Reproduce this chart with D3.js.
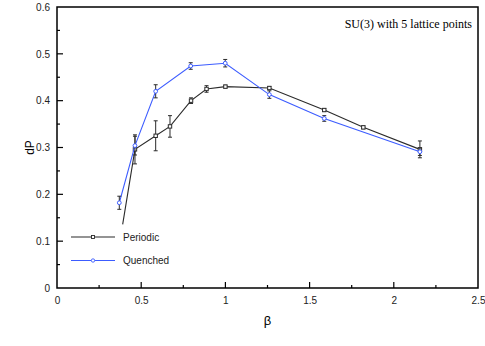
<!DOCTYPE html>
<html>
<head>
<meta charset="utf-8">
<script src="https://cdn.jsdelivr.net/npm/d3@7"></script>
<style>
  body { margin: 0; background: #fff; }
  svg { display: block; font-family: "Liberation Sans", Arial, sans-serif; }
</style>
</head>
<body>
<svg id="chart" width="485" height="346"></svg>
<script>
// Periodic (black, squares)
const periodicBeta = [0.39, 0.463, 0.586, 0.671, 0.796, 0.888, 1.0, 1.261, 1.587, 1.819, 2.155];
const periodicDP   = [0.136, 0.296, 0.325, 0.345, 0.400, 0.425, 0.430, 0.427, 0.380, 0.343, 0.296];
const periodicErr  = [null, 0.031, 0.032, 0.023, 0.006, 0.007, 0.003, 0.003, 0.003, 0.003, 0.018];

// Quenched (blue, circles)
const quenchedBeta = [0.370, 0.463, 0.586, 0.794, 0.999, 1.261, 1.587, 2.155];
const quenchedDP   = [0.182, 0.304, 0.420, 0.474, 0.480, 0.413, 0.362, 0.291];
const quenchedErr  = [0.014, 0.02, 0.014, 0.007, 0.008, 0.008, 0.006, 0.008];

const xTicks = [0, 0.5, 1, 1.5, 2, 2.5];
const yTicks = [0, 0.1, 0.2, 0.3, 0.4, 0.5, 0.6];

const svg = d3.select("#chart");
const x = d3.scaleLinear().domain([0, 2.5]).range([57, 478]);
const y = d3.scaleLinear().domain([0, 0.6]).range([288, 7]);

const blue = "#3c5cff";
const dark = "#2b2b2b";

// frame
svg.append("rect")
  .attr("x", x(0)).attr("y", y(0.6))
  .attr("width", x(2.5) - x(0)).attr("height", y(0) - y(0.6))
  .attr("fill", "none").attr("stroke", "#000").attr("stroke-width", 1.5);

// bottom axis, ticks inward
const xAxis = svg.append("g")
  .attr("transform", "translate(0," + y(0) + ")")
  .call(d3.axisBottom(x).tickValues(xTicks).tickSize(0).tickPadding(9)
    .tickFormat(d3.format("~g")));
xAxis.select(".domain").remove();
xAxis.selectAll("text").attr("font-size", 10).attr("fill", "#222")
  .attr("font-family", "Liberation Sans, Arial, sans-serif");
svg.append("g").selectAll("line")
  .data(d3.range(0.25, 2.5, 0.25))
  .enter().append("line")
    .attr("x1", d => x(d)).attr("x2", d => x(d))
    .attr("y1", y(0)).attr("y2", (d, i) => y(0) - (i % 2 === 1 ? 6 : 3))
    .attr("stroke", "#000").attr("stroke-width", 1.2);

// left axis, ticks inward
const yAxis = svg.append("g")
  .attr("transform", "translate(" + x(0) + ",0)")
  .call(d3.axisLeft(y).tickValues(yTicks).tickSize(0).tickPadding(7)
    .tickFormat(d3.format("~g")));
yAxis.select(".domain").remove();
yAxis.selectAll("text").attr("font-size", 10).attr("fill", "#222")
  .attr("font-family", "Liberation Sans, Arial, sans-serif");
svg.append("g").selectAll("line")
  .data(d3.range(0.05, 0.6, 0.05))
  .enter().append("line")
    .attr("y1", d => y(d)).attr("y2", d => y(d))
    .attr("x1", x(0)).attr("x2", (d, i) => x(0) + (i % 2 === 1 ? 6 : 3))
    .attr("stroke", "#000").attr("stroke-width", 1.2);

// axis titles
svg.append("text")
  .attr("x", x(1.25)).attr("y", 325)
  .attr("text-anchor", "middle").attr("font-size", 13)
  .text("β");
svg.append("text")
  .attr("transform", "translate(34," + y(0.3) + ") rotate(-90)")
  .attr("text-anchor", "middle").attr("font-size", 12)
  .text("dP");

// title
svg.append("text")
  .attr("x", 472).attr("y", 28)
  .attr("text-anchor", "end").attr("font-size", 12)
  .attr("font-family", "Liberation Serif, Times New Roman, serif")
  .text("SU(3) with 5 lattice points");

function drawSeries(betas, vals, errs, color, shape) {
  const pts = betas.map((b, i) => ({b: b, v: vals[i], e: errs[i]}));
  const g = svg.append("g");
  g.append("path")
    .datum(pts)
    .attr("fill", "none").attr("stroke", color).attr("stroke-width", 1.1)
    .attr("d", d3.line().x(d => x(d.b)).y(d => y(d.v)));

  const withErr = pts.filter(d => d.e != null);
  const eb = g.selectAll(".err").data(withErr).enter().append("g");
  eb.append("line")
    .attr("x1", d => x(d.b)).attr("x2", d => x(d.b))
    .attr("y1", d => y(d.v - d.e)).attr("y2", d => y(d.v + d.e))
    .attr("stroke", dark).attr("stroke-width", 1);
  [-1, 1].forEach(s => {
    eb.append("line")
      .attr("x1", d => x(d.b) - 2).attr("x2", d => x(d.b) + 2)
      .attr("y1", d => y(d.v + s * d.e)).attr("y2", d => y(d.v + s * d.e))
      .attr("stroke", dark).attr("stroke-width", 1);
  });

  if (shape === "square") {
    g.selectAll(".mk").data(withErr).enter().append("rect")
      .attr("x", d => x(d.b) - 1.7).attr("y", d => y(d.v) - 1.7)
      .attr("width", 3.4).attr("height", 3.4)
      .attr("fill", "#fff").attr("stroke", color).attr("stroke-width", 1);
  } else {
    g.selectAll(".mk").data(withErr).enter().append("circle")
      .attr("cx", d => x(d.b)).attr("cy", d => y(d.v)).attr("r", 1.9)
      .attr("fill", "#fff").attr("stroke", color).attr("stroke-width", 1);
  }
}

drawSeries(periodicBeta, periodicDP, periodicErr, dark, "square");
drawSeries(quenchedBeta, quenchedDP, quenchedErr, blue, "circle");

// legend
const legend = [
  {name: "Periodic", color: dark, shape: "square", ly: 237},
  {name: "Quenched", color: blue, shape: "circle", ly: 260.5}
];
const lg = svg.append("g").selectAll("g").data(legend).enter().append("g");
lg.append("line")
  .attr("x1", 71).attr("x2", 115).attr("y1", d => d.ly).attr("y2", d => d.ly)
  .attr("stroke", d => d.color).attr("stroke-width", 1.1);
lg.filter(d => d.shape === "square").append("rect")
  .attr("x", 91.5).attr("y", d => d.ly - 1.5).attr("width", 3).attr("height", 3)
  .attr("fill", "#fff").attr("stroke", d => d.color).attr("stroke-width", 0.9);
lg.filter(d => d.shape === "circle").append("circle")
  .attr("cx", 93).attr("cy", d => d.ly).attr("r", 1.7)
  .attr("fill", "#fff").attr("stroke", d => d.color).attr("stroke-width", 0.9);
lg.append("text")
  .attr("x", 123).attr("y", d => d.ly + 3.5)
  .attr("font-size", 10).attr("fill", "#222")
  .text(d => d.name);
</script>
</body>
</html>
